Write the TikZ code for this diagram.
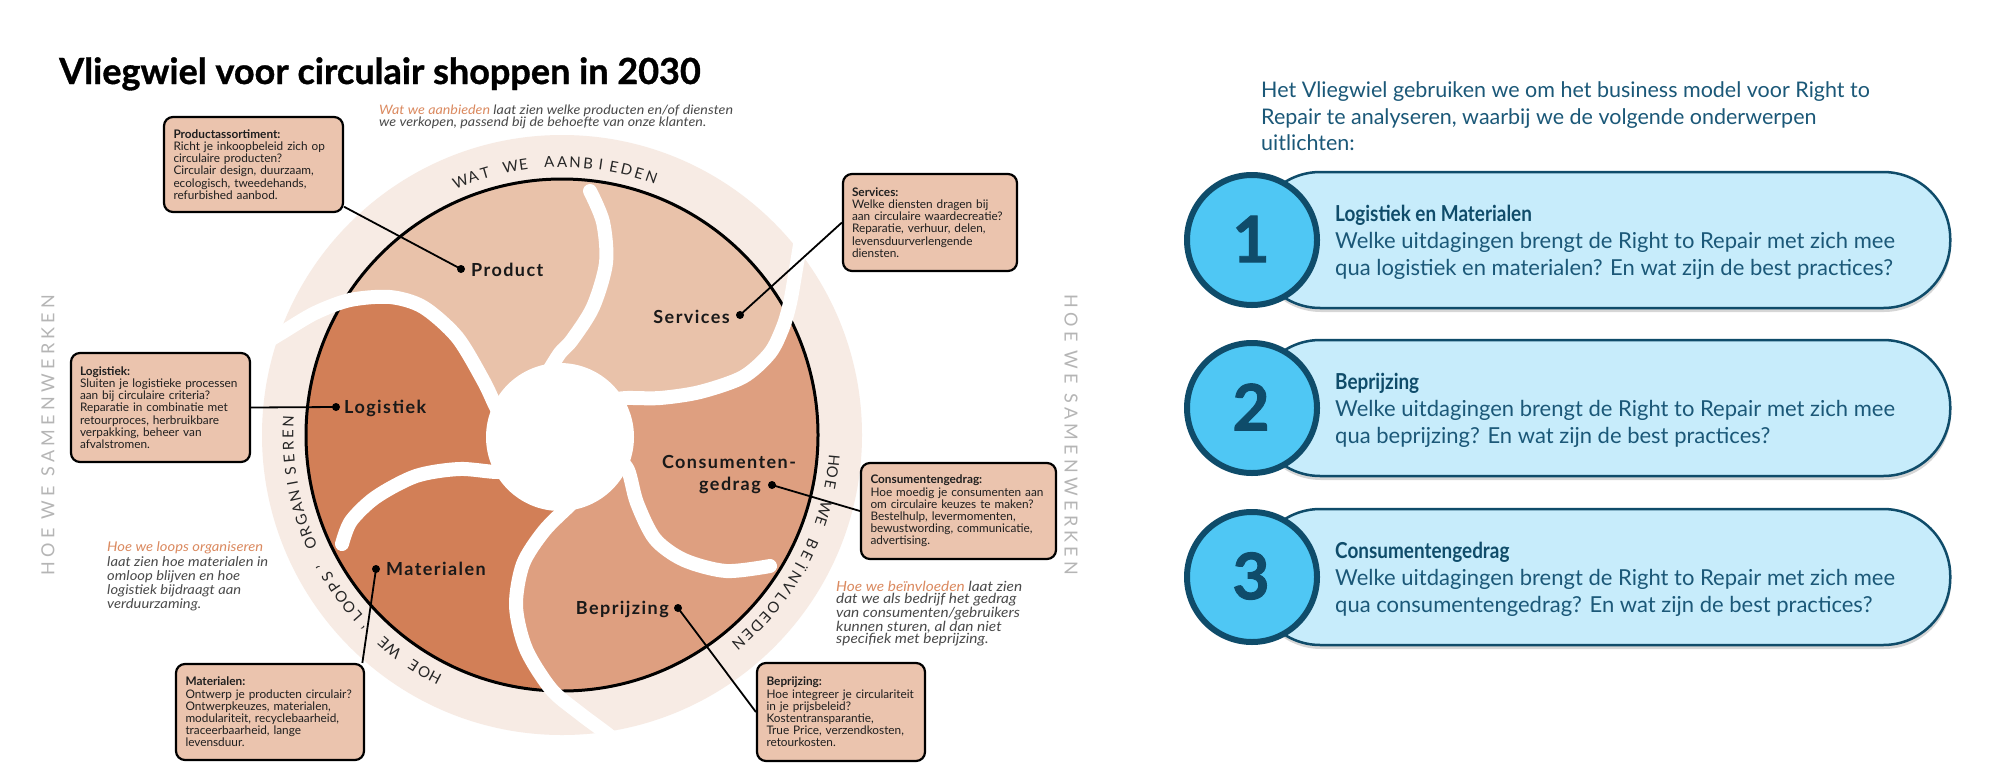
\documentclass[tikz,border=0pt]{standalone}
\usepackage{fontspec}
\usepackage{graphicx}
\setmainfont{Lato}
\newfontfamily\capfont[FakeStretch=1.1]{Lato}
\usetikzlibrary{calc}
\definecolor{petLight}{HTML}{E9C2AA}
\definecolor{petMid}{HTML}{DE9F80}
\definecolor{petDark}{HTML}{D27F57}
\definecolor{bandCol}{HTML}{F7EBE4}
\definecolor{boxFill}{HTML}{EBC4AE}
\definecolor{capOrange}{HTML}{DB8A60}
\definecolor{capGray}{HTML}{4A4A4A}
\definecolor{sideGray}{HTML}{B5B5B5}
\definecolor{navy}{HTML}{0F4C6A}
\definecolor{pillFill}{HTML}{C7ECFB}
\definecolor{ballFill}{HTML}{4FC7F4}
\definecolor{cardText}{HTML}{1B5878}
\tikzset{
  gap/.style={white, line width=14pt, line cap=round},
  conn/.style={black, line width=1.8pt},
  dotnode/.style={circle, fill=black, inner sep=0pt, minimum size=8pt},
  lbl/.style={inner sep=0pt, text=black!90, font=\fontsize{18}{20}\selectfont\bfseries\addfontfeature{LetterSpace=8}},
  infobox/.style={draw=black, line width=2.2pt, rounded corners=9pt, fill=boxFill, align=left, inner sep=0pt, text=black!88, font=\fontsize{11.8}{12.2}\selectfont},
  arcletter/.style={inner sep=0pt, text=black!85, font=\fontsize{15}{15}\selectfont},
  sidetext/.style={inner sep=0pt, text=sideGray, font=\fontsize{18}{18}\selectfont\addfontfeature{LetterSpace=24}},
  capnode/.style={inner sep=0pt, align=left, text=capGray, anchor=north west},
  pill/.style={draw=navy, line width=2.5pt, fill=pillFill, rounded corners=67pt, minimum width=697pt, minimum height=136pt, inner sep=0pt, anchor=west},
  ball/.style={circle, draw=navy, line width=6pt, fill=ballFill, minimum size=130pt, inner sep=0pt},
  numtext/.style={inner sep=0pt, text=navy, font=\fontsize{64}{64}\selectfont\bfseries\addfontfeature{FakeBold=1.5}},
  cardtext/.style={inner sep=0pt, anchor=west, align=left, text=cardText, font=\fontsize{22}{27}\selectfont},
  pillshadow/.style={black, opacity=0.16, rounded corners=67pt},
}
\newcommand\wheelarc[5]{%
  \foreach \ch [count=\i from 0] in {#5}{%
    \pgfmathsetmacro\nang{\i*(#3)-(#2)}%
    \pgfmathsetmacro\rot{(#2)-\i*(#3)-90}%
    \node[arcletter, rotate=\rot] (#1-\i) at ($(562,435)+(\nang:#4)$) {\ch};
  }%
}
\newcommand\cardhead[1]{\scalebox{0.86}[1]{\textbf{\textcolor{navy}{#1}}}}
\begin{document}
\begin{tikzpicture}[x=1pt,y=-1pt]
\useasboundingbox (0,0) rectangle (2000,777);
\fill[white] (0,0) rectangle (2000,777);

% ---------- title
\node[anchor=base west, inner sep=0pt, font=\fontsize{36}{40}\selectfont\bfseries\addfontfeature{FakeBold=1}, text=black] (title) at (59,84) {Vliegwiel voor circulair shoppen in 2030};

% ---------- wheel
\fill[bandCol] (562,435) circle[radius=300pt];
\begin{scope}
\clip (562,435) circle[radius=256pt];
\fill[petDark] (562,435) circle[radius=260pt];
\fill[petLight] (562,435) -- plot[smooth] coordinates {(610,400) (627,398) (660,398) (700,392) (743,377) (770,353) (783,327) (790,303) (795,275) (800,245) (803,228)} -- (900,100) -- (200,100) -- plot[smooth] coordinates {(265,343) (283,332) (315,313) (350,300) (390,297) (423,307) (457,337) (483,380) (495,405) (505,425)} -- cycle;
\fill[petMid] (562,435) -- plot[smooth] coordinates {(610,400) (627,398) (660,398) (700,392) (743,377) (770,353) (783,327) (790,303) (795,275) (800,245) (803,228)} -- (950,228) -- (950,800) -- (622,800) -- plot[smooth] coordinates {(622,746) (606,733) (578,712) (551,689) (526,649) (516,606) (523,564) (544,531) (570,505) (585,490)} -- cycle;
\end{scope}
\draw[line width=3pt] (562,435) circle[radius=256pt];
% white separating gaps
\draw[gap] plot[smooth] coordinates {(548,372) (560,353) (572,340) (593,307) (606,263) (603,222) (590,191)};
\draw[gap] plot[smooth] coordinates {(610,400) (627,398) (660,398) (700,392) (743,377) (770,353) (783,327) (790,303) (795,275) (800,245) (803,228)};
\draw[gap] plot[smooth] coordinates {(615,455) (628,470) (637,503) (655,539) (684,560) (726,571) (770,566)};
\draw[gap] plot[smooth] coordinates {(585,490) (570,505) (544,531) (523,564) (516,606) (526,649) (551,689) (578,712) (606,733) (622,746)};
\draw[gap] plot[smooth] coordinates {(525,468) (498,472) (459,469) (416,476) (376,497) (351,521) (342,544)};
\draw[gap] plot[smooth] coordinates {(505,425) (495,405) (483,380) (457,337) (423,307) (390,297) (350,300) (315,313) (283,332) (265,343)};
\fill[white] (560,437) circle[radius=74pt];

% ring texts
\wheelarc{aTop}{111.8}{2.73}{273}{W,A,T,{},W,E,{},A,A,N,B,I,E,D,E,N}
\wheelarc{aRight}{-5.3}{2.61}{273}{H,O,E,{},W,E,{},B,E,Ï,N,V,L,O,E,D,E,N}
\wheelarc{aLeft}{242.4}{2.61}{274}{H,O,E,{},W,E,{},‘,L,O,O,P,S,’,{},O,R,G,A,N,I,S,E,R,E,N}

% ---------- info boxes
\node[infobox, minimum width=179pt, minimum height=95pt, text width=160pt] (bProd) at (253.5,164.5) {\textbf{Productassortiment:}\\Richt je inkoopbeleid zich op\\circulaire producten?\\Circulair design, duurzaam,\\ecologisch, tweedehands,\\refurbished aanbod.};
\node[infobox, minimum width=174pt, minimum height=97pt, text width=156pt] (bServ) at (930,222.5) {\textbf{Services:}\\Welke diensten dragen bij\\aan circulaire waardecreatie?\\Reparatie, verhuur, delen,\\levensduurverlengende\\diensten.};
\node[infobox, minimum width=179pt, minimum height=109pt, text width=161pt] (bLog) at (160.5,407.5) {\textbf{Logistiek:}\\Sluiten je logistieke processen\\aan bij circulaire criteria?\\Reparatie in combinatie met\\retourproces, herbruikbare\\verpakking, beheer van\\afvalstromen.};
\node[infobox, minimum width=188pt, minimum height=96pt, text width=169pt] (bMat) at (270,712) {\textbf{Materialen:}\\Ontwerp je producten circulair?\\Ontwerpkeuzes, materialen,\\modulariteit, recyclebaarheid,\\traceerbaarheid, lange\\levensduur.};
\node[infobox, minimum width=195pt, minimum height=96pt, text width=176pt] (bCons) at (958.5,511) {\textbf{Consumentengedrag:}\\Hoe moedig je consumenten aan\\om circulaire keuzes te maken?\\Bestelhulp, levermomenten,\\bewustwording, communicatie,\\advertising.};
\node[infobox, minimum width=168pt, minimum height=98pt, text width=149pt] (bPrice) at (841,712) {\textbf{Beprijzing:}\\Hoe integreer je circulariteit\\in je prijsbeleid?\\Kostentransparantie,\\True Price, verzendkosten,\\retourkosten.};

% ---------- labels and dots
\node[dotnode] (dProd) at (461,269) {};
\node[lbl, anchor=base west] (lProd) at (471,276) {Product};
\node[dotnode] (dServ) at (740,315) {};
\node[lbl, anchor=base east] (lServ) at (730,323) {Services};
\node[dotnode] (dLog) at (336,407) {};
\node[lbl, anchor=base west] (lLog) at (344,413) {Logistiek};
\node[dotnode] (dMat) at (376,569) {};
\node[lbl, anchor=base west] (lMat) at (386,575) {Materialen};
\node[dotnode] (dCons) at (772,485) {};
\node[lbl, anchor=base] (lCons) at (729,468) {Consumenten-};
\node[lbl, anchor=base] (lGed) at (730,490) {gedrag};
\node[dotnode] (dPrice) at (678,608) {};
\node[lbl, anchor=base east] (lPrice) at (669,614) {Beprijzing};

% ---------- connectors
\draw[conn] (dProd.center) -- (bProd.-25);
\draw[conn] (dServ.center) -- (bServ.west);
\draw[conn] (dLog.center) -- (bLog.east);
\draw[conn] (dMat.center) -- (bMat.28);
\draw[conn] (dCons.center) -- (bCons.west);
\draw[conn] (dPrice.center) -- (bPrice.west);

% ---------- side texts
\node[sidetext, rotate=90] (sideL) at (48,435) {HOE WE SAMENWERKEN};
\node[sidetext, rotate=-90] (sideR) at (1071,435) {HOE WE SAMENWERKEN};

% ---------- captions
\node[capnode, font=\capfont\fontsize{13}{12.3}\selectfont\itshape] (capTop) at (379,104.5) {\textcolor{capOrange}{Wat we aanbieden} laat zien welke producten en/of diensten\\we verkopen, passend bij de behoefte van onze klanten.};
\node[capnode, font=\capfont\fontsize{13.4}{14.2}\selectfont\itshape] (capLeft) at (107,541.8) {\textcolor{capOrange}{Hoe we loops organiseren}\\laat zien hoe materialen in\\omloop blijven en hoe\\logistiek bijdraagt aan\\verduurzaming.};
\node[capnode, font=\capfont\fontsize{14}{12.5}\selectfont\itshape] (capRight) at (836,580.5) {\textcolor{capOrange}{Hoe we beïnvloeden} laat zien\\dat we als bedrijf het gedrag\\van consumenten/gebruikers\\kunnen sturen, al dan niet\\specifiek met beprijzing.};

% ---------- right part
\node[anchor=north west, inner sep=0pt, align=left, text=cardText, font=\fontsize{21.5}{26.5}\selectfont] (intro) at (1261,81.5) {Het Vliegwiel gebruiken we om het business model voor Right to\\Repair te analyseren, waarbij we de volgende onderwerpen\\uitlichten:};

\fill[pillshadow] (1254,176) rectangle (1951,312);
\node[pill] (pill1) at (1252,240) {};
\node[ball] (ball1) at (1252,240) {};
\node[numtext] (num1) at (1251,239) {1};
\node[cardtext] (txt1) at (1335,242.5) {\cardhead{Logistiek en Materialen}\\Welke uitdagingen brengt de Right to Repair met zich mee\\qua logistiek en materialen? En wat zijn de best practices?};

\fill[pillshadow] (1254,344) rectangle (1951,480);
\node[pill] (pill2) at (1252,408) {};
\node[ball] (ball2) at (1252,408) {};
\node[numtext] (num2) at (1251,407) {2};
\node[cardtext] (txt2) at (1335,410.5) {\cardhead{Beprijzing}\\Welke uitdagingen brengt de Right to Repair met zich mee\\qua beprijzing? En wat zijn de best practices?};

\fill[pillshadow] (1254,513) rectangle (1951,649);
\node[pill] (pill3) at (1252,577) {};
\node[ball] (ball3) at (1252,577) {};
\node[numtext] (num3) at (1251,576) {3};
\node[cardtext] (txt3) at (1335,579.5) {\cardhead{Consumentengedrag}\\Welke uitdagingen brengt de Right to Repair met zich mee\\qua consumentengedrag? En wat zijn de best practices?};
\end{tikzpicture}
\end{document}
